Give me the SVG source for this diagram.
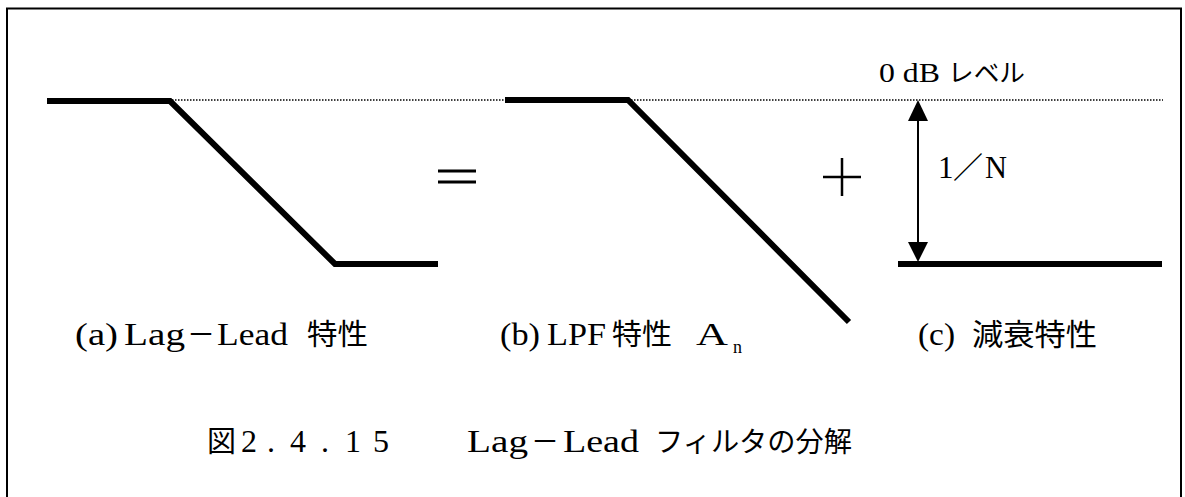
<svg xmlns="http://www.w3.org/2000/svg" width="1185" height="497" viewBox="0 0 1185 497">
<style>
.thick{fill:none;stroke:#000;stroke-width:6;stroke-linejoin:miter;stroke-linecap:butt}
.thin{fill:none;stroke:#000;stroke-width:2}
.dot{fill:none;stroke:#000;stroke-width:1.5;stroke-dasharray:1.5 1.5}
.t{font-family:"Liberation Serif","Noto Sans CJK JP",serif;fill:#000}
.j{font-family:"Noto Sans CJK JP","Liberation Serif",sans-serif;fill:#000}
</style>
<rect width="1185" height="497" fill="#fff"/>
<g id="frame"><path class="thin" d="M7,500 L7,8.5 L1181,8.5 L1181,500" stroke-width="2.5"/></g>
<g id="connectors">
<path class="dot" d="M172,100 L1163,100"/>
<path class="thin" d="M918,118 L918,245"/>
<polygon points="918,100 908,121 928,121" fill="#000"/>
<polygon points="918,262 908,242 928,242" fill="#000"/>
</g>
<g id="curve-a"><path class="thick" d="M47,101 L170,101 L335,264 L438,264"/></g>
<g id="curve-b"><path class="thick" d="M505,100 L628,100 L849,322"/></g>
<g id="curve-c"><path class="thick" d="M898,264 L1162,264"/></g>
<g id="equals"><path d="M438,171 H476 M438,182 H476" stroke="#000" stroke-width="3"/></g>
<g id="plus"><path d="M823,177 H861 M842,158 V196" stroke="#000" stroke-width="2.5"/></g>
<g id="label-0db">
<text class="t" x="879" y="82" font-size="28" textLength="61" lengthAdjust="spacingAndGlyphs">0 dB</text>
<text class="j" x="948" y="82" font-size="25" textLength="77" lengthAdjust="spacingAndGlyphs">レベル</text>
</g>
<g id="label-1n">
<text class="t" x="938" y="178" font-size="31">1</text>
<text class="j" x="953" y="178" font-size="30">／</text>
<text class="t" x="985" y="178" font-size="31" textLength="22" lengthAdjust="spacingAndGlyphs">N</text>
</g>
<g id="label-a">
<text class="t" x="75" y="345" font-size="31" textLength="43" lengthAdjust="spacingAndGlyphs">(a)</text>
<text class="t" x="124" y="345" font-size="31" textLength="61" lengthAdjust="spacingAndGlyphs">Lag</text>
<text class="j" x="187" y="345" font-size="28">－</text>
<text class="t" x="217" y="345" font-size="31" textLength="71" lengthAdjust="spacingAndGlyphs">Lead</text>
<text class="j" x="307" y="345" font-size="29" textLength="61" lengthAdjust="spacingAndGlyphs">特性</text>
</g>
<g id="label-b">
<text class="t" x="500" y="345" font-size="31" textLength="40" lengthAdjust="spacingAndGlyphs">(b)</text>
<text class="t" x="547" y="345" font-size="31" textLength="59" lengthAdjust="spacingAndGlyphs">LPF</text>
<text class="j" x="612" y="345" font-size="29" textLength="60" lengthAdjust="spacingAndGlyphs">特性</text>
<text class="t" x="696" y="345" font-size="31" textLength="32" lengthAdjust="spacingAndGlyphs">A</text>
<text class="t" x="733" y="353" font-size="18">n</text>
</g>
<g id="label-c">
<text class="t" x="918" y="345" font-size="31" textLength="37" lengthAdjust="spacingAndGlyphs">(c)</text>
<text class="j" x="972" y="345" font-size="30" textLength="125" lengthAdjust="spacingAndGlyphs">減衰特性</text>
</g>
<g id="caption">
<text class="j" x="207" y="452" font-size="29">図</text>
<text class="t" font-size="32" y="452"><tspan x="241">2</tspan><tspan x="267">.</tspan><tspan x="290">4</tspan><tspan x="321">.</tspan><tspan x="345">1</tspan><tspan x="373">5</tspan></text>
<text class="t" x="467" y="452" font-size="31" textLength="61" lengthAdjust="spacingAndGlyphs">Lag</text>
<text class="j" x="531" y="452" font-size="28">－</text>
<text class="t" x="563" y="452" font-size="31" textLength="76" lengthAdjust="spacingAndGlyphs">Lead</text>
<text class="j" x="655" y="452" font-size="28" textLength="197" lengthAdjust="spacingAndGlyphs">フィルタの分解</text>
</g>
</svg>
